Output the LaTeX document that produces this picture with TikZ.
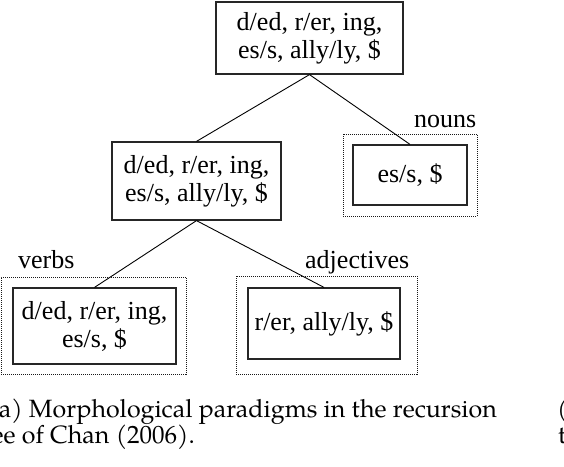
\documentclass[tikz,border=0pt]{standalone}
\usepackage{fontspec}
\setmainfont{Liberation Serif}
\newfontfamily\capfont{TeX Gyre Pagella}
\begin{document}
\begin{tikzpicture}[x=1pt,y=-1pt,
  box/.style={draw=black!85,line width=1.2pt,inner sep=0pt,align=center,
    font=\fontsize{26}{28}\selectfont},
  group/.style={draw=black!90,densely dotted,line width=1pt,inner sep=0pt},
  lbl/.style={inner sep=0pt,anchor=base west,font=\fontsize{26}{28}\selectfont},
  captext/.style={inner sep=0pt,font=\capfont\fontsize{25}{26}\selectfont},
  conn/.style={draw=black,line width=0.9pt}]
\useasboundingbox (0,0) rectangle (564,466);
\clip (0,0) rectangle (564,466);
% outer dotted group frames
\node[group,minimum width=134pt,minimum height=82pt] (nounsgrp) at (410,175) {};
\node[group,minimum width=185pt,minimum height=97pt] (verbsgrp) at (93.5,325.5) {};
\node[group,minimum width=181pt,minimum height=98pt] (adjgrp) at (326.5,325) {};
% boxes
\node[box,minimum width=187pt,minimum height=72pt] (top) at (309.5,38)
  {d/ed, r/er, ing,\\ es/s, ally/ly, \$};
\node[box,minimum width=169pt,minimum height=78pt] (mid) at (196.5,181)
  {d/ed, r/er, ing,\\ es/s, ally/ly, \$};
\node[box,minimum width=114pt,minimum height=60pt] (nouns) at (410,175) {es/s, \$};
\node[box,minimum width=163pt,minimum height=76pt] (verbs) at (94.5,326)
  {d/ed, r/er, ing,\\ es/s, \$};
\node[box,minimum width=152pt,minimum height=71pt] (adj) at (324,323.5)
  {r/er, ally/ly, \$};
% labels
\node[lbl] (lnouns) at (414,127) {nouns};
\node[lbl] (lverbs) at (18,268) {verbs};
\node[lbl] (ladj) at (305,268) {adjectives};
% connectors
\draw[conn] (top.south) -- (mid.north);
\draw[conn] (top.south) -- (nouns.north);
\draw[conn] (mid.south) -- (verbs.north);
\draw[conn] (mid.south) -- (adj.north);
% caption (cropped at the picture's edges, as in the reference)
\node[captext,anchor=base east] (cap1) at (497,417) {(a) Morphological paradigms in the recursion};
\node[captext,anchor=base east] (cap2) at (195,443) {tree of Chan (2006).};
\node[captext,anchor=base west] (capb1) at (557,417) {(b)};
\node[captext,anchor=base west] (capb2) at (558,443) {the};
\end{tikzpicture}
\end{document}
